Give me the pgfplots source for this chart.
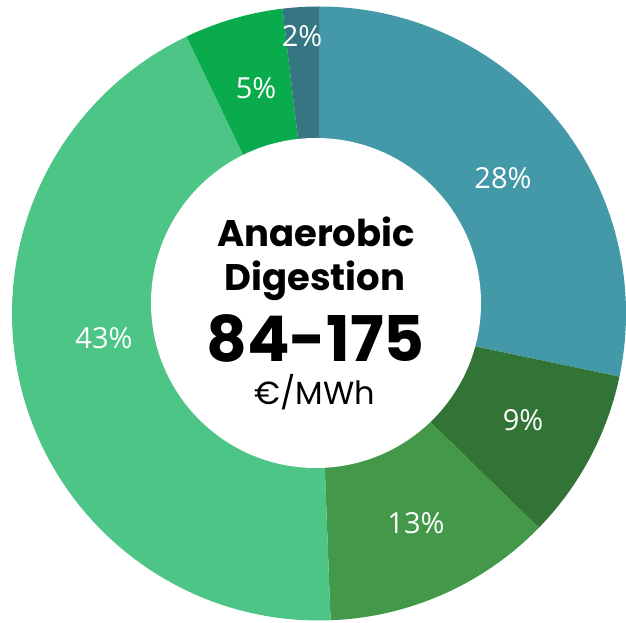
\documentclass[border=0pt]{standalone}
\usepackage{pgfplots}
\pgfplotsset{compat=1.18}
\usepackage{pgfplotstable}
\usepackage{fontspec}
\setmainfont{Poppins}
\newfontfamily\labfont{Open Sans}
\definecolor{c1}{HTML}{4499A9}
\definecolor{c2}{HTML}{327336}
\definecolor{c3}{HTML}{43984A}
\definecolor{c4}{HTML}{4DC586}
\definecolor{c5}{HTML}{0AAB4C}
\definecolor{c6}{HTML}{367582}
% value = share of the ring, lab = printed label
\pgfplotstableread{
value lab col lx ly
28.3 28 c1 503 445
9.0 9 c2 523 203
12.1 13 c3 416 100
43.5 43 c4 104 285
5.2 5 c5 256 535
1.9 2 c6 302 587
}\piedata
\begin{document}
\begin{tikzpicture}
\begin{axis}[
  x=1pt, y=1pt,
  xmin=0, xmax=626, ymin=0, ymax=623,
  hide axis, clip=false, scale only axis,
]
\addplot[draw=none, forget plot] coordinates {(0,0) (626,623)};
\pgfplotsextra{
  \gdef\angA{90}
  \foreach \i in {0,...,5}{
    \pgfplotstablegetelem{\i}{value}\of\piedata \let\v\pgfplotsretval
    \pgfplotstablegetelem{\i}{col}\of\piedata \let\c\pgfplotsretval
    \pgfmathsetmacro\angB{\angA-3.6*\v}
    \fill[\c, shift={(axis cs:319,309.5)}] (0,0) -- (\angA:307pt) arc[start angle=\angA, end angle=\angB, radius=307pt] -- cycle;
    \xdef\angA{\angB}
  }
  \fill[white] (axis cs:316,320) circle[radius=165pt];
  \foreach \i in {0,...,5}{
    \pgfplotstablegetelem{\i}{lab}\of\piedata \let\l\pgfplotsretval
    \pgfplotstablegetelem{\i}{lx}\of\piedata \let\lx\pgfplotsretval
    \pgfplotstablegetelem{\i}{ly}\of\piedata \let\ly\pgfplotsretval
    \node[text=white, font=\labfont\fontsize{29}{33}\selectfont] at (axis cs:\lx,\ly) {\l\%};
  }
}
\node[anchor=base, font=\bfseries\fontsize{37}{42}\selectfont] at (axis cs:316,376) {Anaerobic};
\node[anchor=base, font=\bfseries\fontsize{37}{42}\selectfont] at (axis cs:315,332) {Digestion};
\node[anchor=base, font=\bfseries\fontsize{63}{70}\selectfont] at (axis cs:315.5,261) {84-175};
\node[anchor=base, font=\fontsize{32}{36}\selectfont] at (axis cs:315,218) {€/MWh};
\end{axis}
\pgfresetboundingbox
\path[use as bounding box] (current axis.south west) rectangle (current axis.north east);
\end{tikzpicture}
\end{document}
